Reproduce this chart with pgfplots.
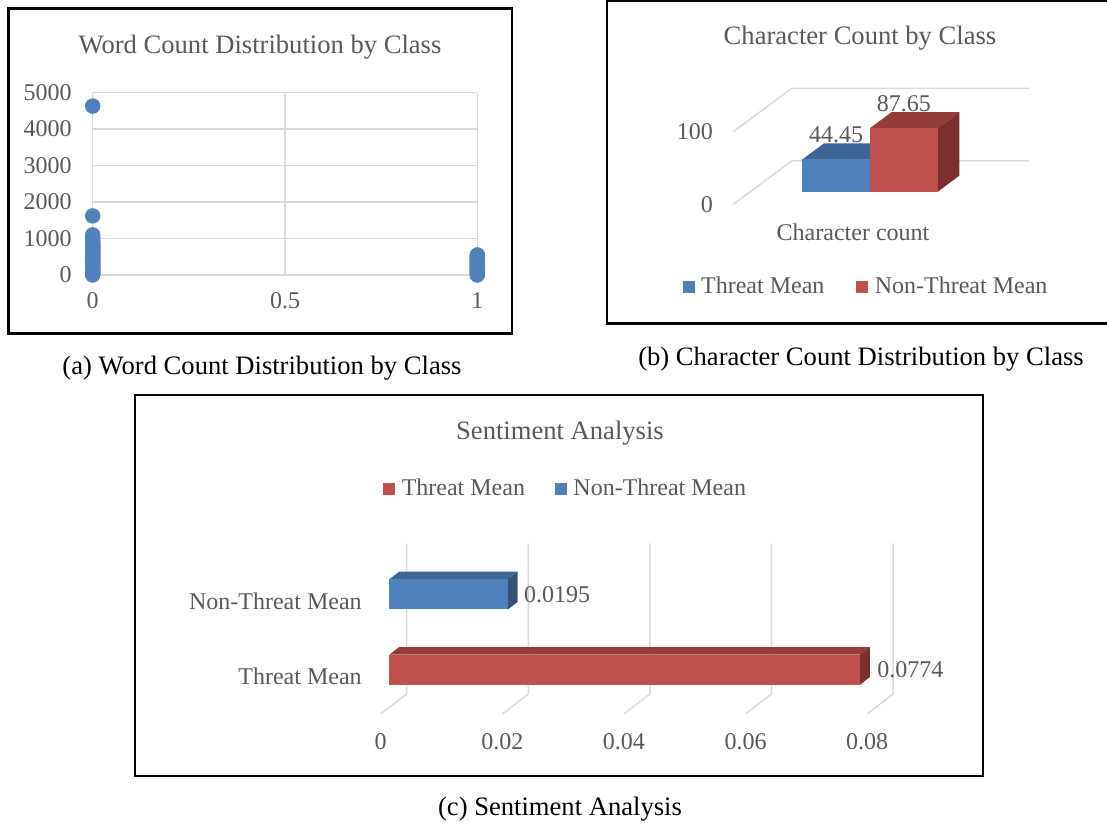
\documentclass[border=0pt]{standalone}
\usepackage{pgfplots}
\pgfplotsset{compat=1.18}
\usepackage{fontspec}
\setmainfont{Liberation Serif}

\definecolor{txt}{HTML}{595959}
\definecolor{gridc}{HTML}{D9D9D9}
\definecolor{blueF}{HTML}{4F81BD}
\definecolor{blueT}{HTML}{3D6596}
\definecolor{blueS}{HTML}{33527B}
\definecolor{redF}{HTML}{C0504D}
\definecolor{redT}{HTML}{943C3A}
\definecolor{redS}{HTML}{7C302E}

\newcommand{\lbl}{\fontsize{12}{14}\selectfont}
\newcommand{\ttl}{\fontsize{13.3}{16}\selectfont}

\begin{document}
\begin{tikzpicture}[font=\lbl]
\useasboundingbox (0pt,0pt) rectangle (553.5pt,412.5pt);

% panel frames
\draw[line width=1.2pt] (4.25pt,408.25pt) rectangle (256pt,245.75pt);
\draw[line width=1.2pt] (303.5pt,412pt) rectangle (560pt,250.75pt);
\draw[line width=1.2pt] (67.5pt,215pt) rectangle (491.5pt,24.5pt);

% ---------------- (a) word count scatter ----------------
\node[anchor=base, text=txt, font=\ttl] at (130pt,385.85pt) {Word Count Distribution by Class};
\begin{axis}[
  at={(46.35pt,275pt)}, anchor=south west,
  scale only axis, width=192.3pt, height=91.2pt,
  xmin=0, xmax=1, ymin=0, ymax=5000,
  xtick={0,0.5,1}, ytick={0,1000,2000,3000,4000,5000},
  grid=major, grid style={gridc, line width=0.75pt},
  axis line style={draw=none}, major tick length=0pt,
  tick label style={font=\lbl, text=txt, inner sep=0pt},
  xticklabel style={yshift=-8.5pt},
  yticklabel style={xshift=-10.3pt},
  /pgf/number format/assume math mode=true,
  /pgf/number format/1000 sep={},
  scaled ticks=false,
  clip=false,
]
\addplot[only marks, mark=*, mark size=3.65pt, color=blueF] coordinates {
  (0,0) (0,25) (0,50) (0,75) (0,100) (0,125) (0,150) (0,175) (0,200) (0,225)
  (0,250) (0,275) (0,300) (0,325) (0,350) (0,375) (0,400) (0,425) (0,450) (0,475)
  (0,500) (0,525) (0,550) (0,575) (0,600) (0,625) (0,650) (0,675) (0,700) (0,725)
  (0,750) (0,775) (0,800) (0,825) (0,850) (0,875) (0,900) (0,950) (0,1000) (0,1050)
  (0,1100) (0,1620) (0,4630)
};
\addplot[only marks, mark=*, mark size=3.65pt, color=blueF] coordinates {
  (1,0) (1,25) (1,50) (1,75) (1,100) (1,125) (1,150) (1,175) (1,200) (1,225)
  (1,250) (1,275) (1,300) (1,325) (1,350) (1,375) (1,400) (1,425) (1,450) (1,475)
  (1,500) (1,525) (1,550)
};
\end{axis}
\node[anchor=base, font=\ttl] at (131pt,225.25pt) {(a) Word Count Distribution by Class};

% ---------------- (b) character count, 3-D columns ----------------
\node[anchor=base, text=txt, font=\ttl] at (430pt,390pt) {Character Count by Class};
\begin{axis}[
  at={(366.65pt,310.35pt)}, anchor=origin,
  x={(0.5pt,0pt)}, y={(29.15pt,21.65pt)}, z={(0pt,0.363pt)},
  xmin=0, xmax=237.7, ymin=0, ymax=1, zmin=0, zmax=100,
  hide axis, clip=false,
  legend columns=2,
  legend image code/.code={\fill[#1] (0pt,-3pt) rectangle (6pt,3pt); \path (7.2pt,0pt);},
  legend style={at={(0.452,-0.714)}, anchor=center, draw=none, fill=none,
    font=\lbl, text=txt,
    /tikz/every even column/.append style={column sep=14pt}},
]
% back wall gridlines
\addplot3[gridc, line width=0.75pt, forget plot] coordinates {(0,0,0) (0,1,0) (237.7,1,0)};
\addplot3[gridc, line width=0.75pt, forget plot] coordinates {(0,0,100) (0,1,100) (237.7,1,100)};
% Threat Mean = 44.45
\addplot3[fill=blueT, draw=none, forget plot] coordinates {(52.1,0.29,44.45) (119.8,0.29,44.45) (119.8,0.66,44.45) (52.1,0.66,44.45)};
\addplot3[fill=blueS, draw=none, forget plot] coordinates {(119.8,0.29,0) (119.8,0.66,0) (119.8,0.66,44.45) (119.8,0.29,44.45)};
\addplot3[fill=blueF, draw=none] coordinates {(52.1,0.29,0) (119.8,0.29,0) (119.8,0.29,44.45) (52.1,0.29,44.45)};
\addlegendentry{Threat Mean}
% Non-Threat Mean = 87.65
\addplot3[fill=redT, draw=none, forget plot] coordinates {(119.8,0.29,87.65) (187.5,0.29,87.65) (187.5,0.66,87.65) (119.8,0.66,87.65)};
\addplot3[fill=redS, draw=none, forget plot] coordinates {(187.5,0.29,0) (187.5,0.66,0) (187.5,0.66,87.65) (187.5,0.29,87.65)};
\addplot3[fill=redF, draw=none] coordinates {(119.8,0.29,0) (187.5,0.29,0) (187.5,0.29,87.65) (119.8,0.29,87.65)};
\addlegendentry{Non-Threat Mean}
\node[anchor=south, inner sep=0pt, yshift=8pt, text=txt] at (axis cs:85.95,0.29,44.45) {44.45};
\node[anchor=south, inner sep=0pt, yshift=8pt, text=txt] at (axis cs:153.65,0.29,87.65) {87.65};
\node[anchor=east, inner sep=0pt, xshift=-10pt, text=txt] at (axis cs:0,0,100) {100};
\node[anchor=east, inner sep=0pt, xshift=-10pt, text=txt] at (axis cs:0,0,0) {0};
\end{axis}
\node[anchor=base, text=txt] at (426.5pt,292.15pt) {Character count};
\node[anchor=base, font=\ttl] at (430.5pt,229.5pt) {(b) Character Count Distribution by Class};

% ---------------- (c) sentiment, 3-D horizontal bars ----------------
\node[anchor=base, text=txt, font=\ttl] at (280pt,192.5pt) {Sentiment Analysis};
\begin{axis}[
  at={(190.35pt,55.5pt)}, anchor=origin,
  x={(3040pt,0pt)}, y={(13pt,10pt)}, z={(0pt,37.675pt)},
  xmin=0, xmax=0.08, ymin=0, ymax=1, zmin=0, zmax=2,
  hide axis, clip=false,
  legend columns=2,
  legend image code/.code={\fill[#1] (0pt,-3pt) rectangle (6pt,3pt); \path (7.2pt,0pt);},
  legend style={at={(0.363,1.318)}, anchor=center, draw=none, fill=none,
    font=\lbl, text=txt,
    /tikz/every even column/.append style={column sep=13pt}},
]
% gridlines on the back wall and floor
\addplot3[gridc, line width=0.75pt, forget plot] coordinates {(0,0,0) (0,1,0) (0,1,2)};
\addplot3[gridc, line width=0.75pt, forget plot] coordinates {(0.02,0,0) (0.02,1,0) (0.02,1,2)};
\addplot3[gridc, line width=0.75pt, forget plot] coordinates {(0.04,0,0) (0.04,1,0) (0.04,1,2)};
\addplot3[gridc, line width=0.75pt, forget plot] coordinates {(0.06,0,0) (0.06,1,0) (0.06,1,2)};
\addplot3[gridc, line width=0.75pt, forget plot] coordinates {(0.08,0,0) (0.08,1,0) (0.08,1,2)};
% Threat Mean = 0.0774
\addplot3[fill=redT, draw=none, forget plot] coordinates {(0,0.33,0.7) (0.0774,0.33,0.7) (0.0774,0.71,0.7) (0,0.71,0.7)};
\addplot3[fill=redS, draw=none, forget plot] coordinates {(0.0774,0.33,0.3) (0.0774,0.71,0.3) (0.0774,0.71,0.7) (0.0774,0.33,0.7)};
\addplot3[fill=redF, draw=none] coordinates {(0,0.33,0.3) (0.0774,0.33,0.3) (0.0774,0.33,0.7) (0,0.33,0.7)};
\addlegendentry{Threat Mean}
% Non-Threat Mean = 0.0195
\addplot3[fill=blueT, draw=none, forget plot] coordinates {(0,0.33,1.7) (0.0195,0.33,1.7) (0.0195,0.71,1.7) (0,0.71,1.7)};
\addplot3[fill=blueS, draw=none, forget plot] coordinates {(0.0195,0.33,1.3) (0.0195,0.71,1.3) (0.0195,0.71,1.7) (0.0195,0.33,1.7)};
\addplot3[fill=blueF, draw=none] coordinates {(0,0.33,1.3) (0.0195,0.33,1.3) (0.0195,0.33,1.7) (0,0.33,1.7)};
\addlegendentry{Non-Threat Mean}
\node[anchor=west, inner sep=0pt, xshift=8.5pt, text=txt] at (axis cs:0.0774,0.33,0.5) {0.0774};
\node[anchor=west, inner sep=0pt, xshift=8pt, text=txt] at (axis cs:0.0195,0.33,1.5) {0.0195};
\node[anchor=east, inner sep=0pt, xshift=-9.3pt, text=txt] at (axis cs:0,0,0.5) {Threat Mean};
\node[anchor=east, inner sep=0pt, xshift=-9.3pt, text=txt] at (axis cs:0,0,1.5) {Non-Threat Mean};
\node[anchor=north, inner sep=0pt, yshift=-9.5pt, text=txt] at (axis cs:0,0,0) {0};
\node[anchor=north, inner sep=0pt, yshift=-9.5pt, text=txt] at (axis cs:0.02,0,0) {0.02};
\node[anchor=north, inner sep=0pt, yshift=-9.5pt, text=txt] at (axis cs:0.04,0,0) {0.04};
\node[anchor=north, inner sep=0pt, yshift=-9.5pt, text=txt] at (axis cs:0.06,0,0) {0.06};
\node[anchor=north, inner sep=0pt, yshift=-9.5pt, text=txt] at (axis cs:0.08,0,0) {0.08};
\end{axis}
\node[anchor=base, font=\ttl] at (280pt,5pt) {(c) Sentiment Analysis};
\end{tikzpicture}
\end{document}
